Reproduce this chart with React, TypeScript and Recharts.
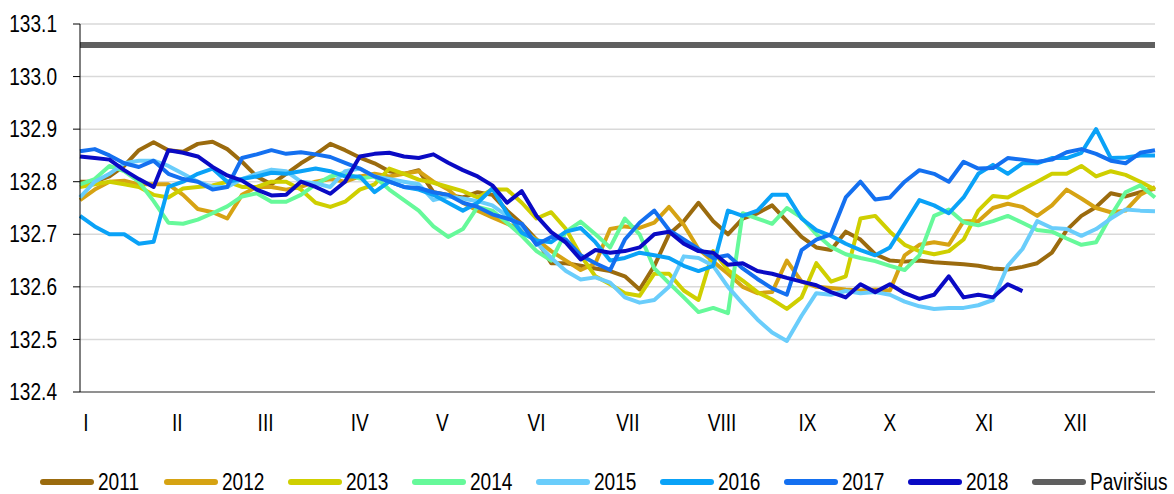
import { LineChart, Line, XAxis, YAxis, CartesianGrid, Legend } from "recharts";

const FONT = "'Liberation Sans', Arial, sans-serif";
const FONT_SIZE = 23;
const SQUEEZE = 0.83; // the reference uses a narrow face

// day of year for every sample
const days = [
  1, 6, 11, 16, 21, 26, 31, 36, 41, 46, 51, 56, 61, 66, 71, 76, 81, 86, 91, 96,
  101, 106, 111, 116, 121, 126, 131, 136, 141, 146, 151, 156, 161, 166, 171, 176, 181, 186, 191, 196,
  201, 206, 211, 216, 221, 226, 231, 236, 241, 246, 251, 256, 261, 266, 271, 276, 281, 286, 291, 296,
  301, 306, 311, 316, 321, 326, 331, 336, 341, 346, 351, 356, 361, 366,
];

const monthTicks = [3, 34, 64, 96, 124, 156, 187, 219, 248, 276, 308, 339];
const monthNames = ["I", "II", "III", "IV", "V", "VI", "VII", "VIII", "IX", "X", "XI", "XII"];
const yTicks = [132.4, 132.5, 132.6, 132.7, 132.8, 132.9, 133.0, 133.1];

const surfaceLevel = 133.06;

const s2011 = [
  132.80, 132.80, 132.81, 132.83, 132.86, 132.875, 132.86, 132.857, 132.872, 132.876,
  132.862, 132.838, 132.81, 132.795, 132.815, 132.835, 132.852, 132.872, 132.86, 132.846,
  132.835, 132.82, 132.815, 132.822, 132.78, 132.775, 132.77, 132.78, 132.775, 132.745,
  132.72, 132.69, 132.645, 132.645, 132.64, 132.635, 132.63, 132.62, 132.595, 132.64,
  132.70, 132.725, 132.76, 132.725, 132.70, 132.73, 132.74, 132.755, 132.725, 132.695,
  132.675, 132.67, 132.705, 132.69, 132.662, 132.65, 132.648, 132.65, 132.647, 132.645,
  132.643, 132.64, 132.635, 132.633, 132.638, 132.645, 132.665, 132.708, 132.735, 132.752,
  132.778, 132.772, 132.78, 132.787,
];

const s2012 = [
  132.765, 132.785, 132.80, 132.802, 132.795, 132.795, 132.795, 132.775, 132.748, 132.742,
  132.73, 132.775, 132.79, 132.79, 132.785, 132.79, 132.80, 132.805, 132.80, 132.81,
  132.815, 132.81, 132.815, 132.82, 132.80, 132.785, 132.76, 132.745, 132.732, 132.72,
  132.708, 132.69, 132.668, 132.65, 132.632, 132.645, 132.71, 132.715, 132.712, 132.722,
  132.752, 132.718, 132.672, 132.648, 132.625, 132.60, 132.588, 132.59, 132.65, 132.61,
  132.60, 132.598, 132.595, 132.593, 132.595, 132.593, 132.66, 132.68, 132.685, 132.68,
  132.725, 132.725, 132.75, 132.758, 132.752, 132.735, 132.755, 132.785, 132.768, 132.75,
  132.742, 132.745, 132.775, 132.79,
];

const s2013 = [
  132.79, 132.795, 132.80, 132.795, 132.79, 132.775, 132.77, 132.787, 132.79, 132.793,
  132.80, 132.79, 132.79, 132.80, 132.80, 132.785, 132.76, 132.752, 132.762, 132.785,
  132.795, 132.825, 132.815, 132.804, 132.798, 132.79, 132.782, 132.77, 132.785, 132.785,
  132.76, 132.73, 132.742, 132.71, 132.66, 132.62, 132.605, 132.588, 132.583, 132.625,
  132.625, 132.593, 132.575, 132.668, 132.632, 132.612, 132.59, 132.576, 132.558, 132.58,
  132.645, 132.61, 132.62, 132.73, 132.735, 132.705, 132.68, 132.668, 132.662, 132.668,
  132.69, 132.745, 132.773, 132.77, 132.785, 132.80, 132.815, 132.815, 132.83, 132.81,
  132.82, 132.813, 132.80, 132.785,
];

const s2014 = [
  132.795, 132.805, 132.83, 132.82, 132.80, 132.763, 132.722, 132.72, 132.728, 132.74,
  132.753, 132.772, 132.778, 132.762, 132.762, 132.775, 132.795, 132.81, 132.817, 132.806,
  132.81, 132.785, 132.765, 132.745, 132.715, 132.695, 132.71, 132.752, 132.745, 132.722,
  132.697, 132.668, 132.65, 132.705, 132.724, 132.70, 132.675, 132.73, 132.70, 132.635,
  132.607, 132.58, 132.552, 132.56, 132.55, 132.74, 132.73, 132.72, 132.75, 132.732,
  132.70, 132.676, 132.662, 132.655, 132.649, 132.64, 132.632, 132.66, 132.735, 132.747,
  132.723, 132.717, 132.725, 132.735, 132.722, 132.708, 132.705, 132.692, 132.68, 132.685,
  132.735, 132.78, 132.793, 132.77,
];

const s2015 = [
  132.77, 132.80, 132.815, 132.835, 132.84, 132.84, 132.83, 132.815, 132.80, 132.79,
  132.79, 132.805, 132.815, 132.823, 132.82, 132.80, 132.797, 132.79, 132.82, 132.825,
  132.81, 132.805, 132.80, 132.795, 132.765, 132.772, 132.768, 132.763, 132.755, 132.735,
  132.715, 132.684, 132.655, 132.63, 132.614, 132.618, 132.608, 132.58, 132.57, 132.575,
  132.60, 132.658, 132.655, 132.64, 132.60, 132.568, 132.538, 132.513, 132.497, 132.545,
  132.588, 132.585, 132.592, 132.588, 132.59, 132.585, 132.572, 132.563, 132.558, 132.56,
  132.56, 132.565, 132.575, 132.64, 132.672, 132.725, 132.712, 132.71, 132.697, 132.71,
  132.73, 132.747, 132.745, 132.744,
];

const s2016 = [
  132.735, 132.715, 132.70, 132.70, 132.682, 132.686, 132.79, 132.80, 132.815, 132.825,
  132.80, 132.805, 132.81, 132.817, 132.815, 132.82, 132.825, 132.82, 132.81, 132.81,
  132.78, 132.80, 132.79, 132.785, 132.775, 132.76, 132.745, 132.76, 132.787, 132.74,
  132.703, 132.688, 132.685, 132.705, 132.712, 132.685, 132.65, 132.655, 132.665, 132.66,
  132.655, 132.64, 132.63, 132.64, 132.745, 132.735, 132.745, 132.775, 132.775, 132.73,
  132.708, 132.697, 132.682, 132.67, 132.66, 132.675, 132.72, 132.765, 132.755, 132.74,
  132.77, 132.815, 132.832, 132.815, 132.835, 132.835, 132.845, 132.845, 132.855, 132.90,
  132.845, 132.846, 132.85, 132.85,
];

const s2017 = [
  132.858, 132.862, 132.85, 132.835, 132.828, 132.84, 132.815, 132.805, 132.80, 132.785,
  132.79, 132.845, 132.852, 132.86, 132.853, 132.856, 132.852, 132.847, 132.836, 132.825,
  132.81, 132.80, 132.79, 132.788, 132.78, 132.775, 132.76, 132.752, 132.738, 132.73,
  132.72, 132.68, 132.695, 132.69, 132.66, 132.645, 132.632, 132.69, 132.722, 132.745,
  132.708, 132.69, 132.672, 132.655, 132.66, 132.635, 132.615, 132.597, 132.585, 132.67,
  132.69, 132.70, 132.77, 132.80, 132.766, 132.77, 132.80, 132.822, 132.815, 132.80,
  132.838, 132.825, 132.826, 132.845, 132.842, 132.838, 132.842, 132.856, 132.862, 132.853,
  132.84, 132.835, 132.855, 132.86,
];

const s2018 = [
  132.848, 132.845, 132.842, 132.822, 132.805, 132.79, 132.86, 132.855, 132.848, 132.828,
  132.812, 132.802, 132.785, 132.774, 132.775, 132.80, 132.79, 132.777, 132.80, 132.848,
  132.853, 132.855, 132.848, 132.845, 132.852, 132.836, 132.822, 132.81, 132.793, 132.76,
  132.782, 132.735, 132.704, 132.684, 132.652, 132.67, 132.665, 132.668, 132.675, 132.70,
  132.705, 132.682, 132.668, 132.665, 132.642, 132.645, 132.63, 132.625, 132.617, 132.61,
  132.603, 132.59, 132.58, 132.605, 132.59, 132.605, 132.588, 132.577, 132.585, 132.62,
  132.58, 132.585, 132.58, 132.605, 132.592, null, null, null, null, null,
  null, null, null, null,
];

const series = [
  { key: "y2011", label: "2011", color: "#9B6B0E", values: s2011 },
  { key: "y2012", label: "2012", color: "#D6A313", values: s2012 },
  { key: "y2013", label: "2013", color: "#CFCF00", values: s2013 },
  { key: "y2014", label: "2014", color: "#66F99A", values: s2014 },
  { key: "y2015", label: "2015", color: "#6ACDFB", values: s2015 },
  { key: "y2016", label: "2016", color: "#0AA2F7", values: s2016 },
  { key: "y2017", label: "2017", color: "#1470F0", values: s2017 },
  { key: "y2018", label: "2018", color: "#0A0AC4", values: s2018 },
];

const surfaceItem = { key: "pav", label: "Paviršius", color: "#5F5F5F" };

const data = days.map((day, i) => {
  const row: Record<string, number | null> = { day, pav: surfaceLevel };
  series.forEach((s) => {
    row[s.key] = s.values[i];
  });
  return row;
});

const legendItems = [...series, surfaceItem];

function YTick(props: any) {
  const { x, y, payload } = props;
  return (
    <text
      transform={`translate(${x},${y}) scale(${SQUEEZE},1)`}
      textAnchor="end"
      dy="0.355em"
      fontSize={FONT_SIZE}
      fontFamily={FONT}
      fill="#000"
    >
      {Number(payload.value).toFixed(1)}
    </text>
  );
}

function XTick(props: any) {
  const { x, y, payload } = props;
  const label = monthNames[monthTicks.indexOf(payload.value)];
  return (
    <text
      transform={`translate(${x},${y}) scale(${SQUEEZE},1)`}
      textAnchor="middle"
      dy="0.71em"
      fontSize={FONT_SIZE}
      fontFamily={FONT}
      fill="#000"
    >
      {label}
    </text>
  );
}

function LegendContent() {
  return (
    <div style={{ position: "relative", width: 1174, height: 52 }}>
      {legendItems.map((it, i) => (
        <div
          key={it.key}
          style={{
            position: "absolute",
            left: 40 + i * 124,
            top: 27,
            height: 26,
            display: "flex",
            alignItems: "center",
            whiteSpace: "nowrap",
          }}
        >
          <span
            style={{
              display: "inline-block",
              width: 54,
              height: 6,
              borderRadius: 3,
              background: it.color,
            }}
          />
          <span
            style={{
              display: "inline-block",
              marginLeft: 4,
              fontSize: FONT_SIZE,
              fontFamily: FONT,
              color: "#000",
              transform: `scaleX(${SQUEEZE})`,
              transformOrigin: "left center",
            }}
          >
            {it.label}
          </span>
        </div>
      ))}
    </div>
  );
}

export default function App() {
  return (
    <div>
      <style>{`body{margin:0}`}</style>
      <LineChart
        width={1174}
        height={494}
        data={data}
        margin={{ top: 24, right: 19, left: 0, bottom: 0 }}
      >
        <CartesianGrid vertical={false} stroke="#d9d9d9" strokeWidth={1.5} />
        <XAxis
          dataKey="day"
          type="number"
          domain={[1, 366]}
          ticks={monthTicks}
          interval={0}
          tickLine={false}
          tickSize={0}
          tickMargin={23}
          height={50}
          axisLine={{ stroke: "#404040" }}
          tick={<XTick />}
        />
        <YAxis
          domain={[132.4, 133.1]}
          ticks={yTicks}
          interval={0}
          width={80}
          tickSize={7}
          tickMargin={16}
          axisLine={{ stroke: "#000" }}
          tickLine={{ stroke: "#000" }}
          tick={<YTick />}
        />
        <Legend
          verticalAlign="bottom"
          align="left"
          height={52}
          wrapperStyle={{ left: 0, bottom: 0, width: 1174, height: 52 }}
          content={() => <LegendContent />}
        />
        <Line
          dataKey="pav"
          stroke={surfaceItem.color}
          strokeWidth={6}
          dot={false}
          activeDot={false}
          isAnimationActive={false}
        />
        {series.map((s) => (
          <Line
            key={s.key}
            type="linear"
            dataKey={s.key}
            stroke={s.color}
            strokeWidth={4}
            strokeLinejoin="round"
            dot={false}
            activeDot={false}
            isAnimationActive={false}
          />
        ))}
      </LineChart>
    </div>
  );
}
